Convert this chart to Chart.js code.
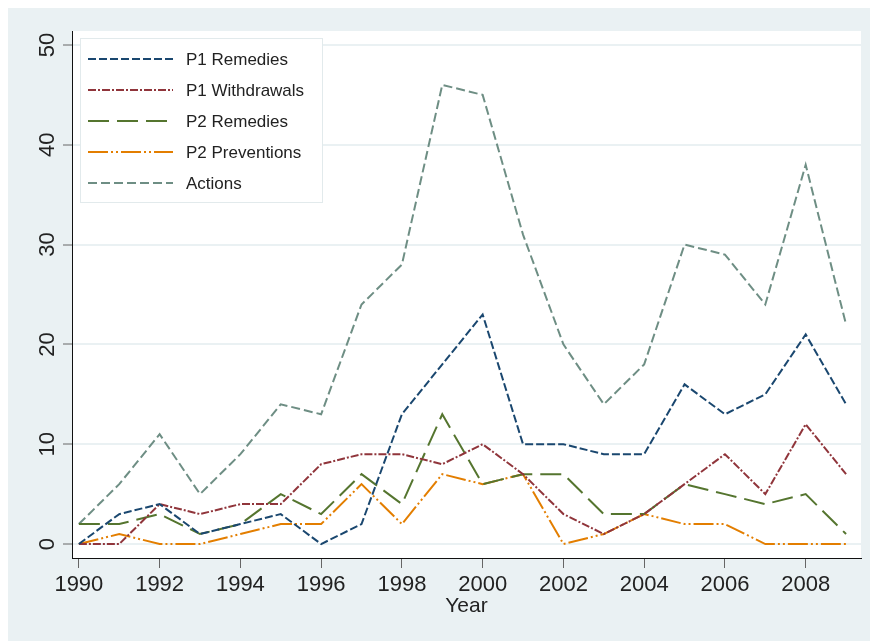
<!DOCTYPE html>
<html lang="en">
<head>
  <meta charset="UTF-8" />
  <title>Actions by year</title>
  <script src="https://cdn.jsdelivr.net/npm/chart.js"></script>
  <style>
    body { margin: 0; background: #fff; }
    canvas { display: block; }
  </style>
</head>
<body>
<canvas id="actionsChart" width="870" height="641"></canvas>
<script>
  const years = [1990, 1991, 1992, 1993, 1994, 1995, 1996, 1997, 1998, 1999,
                 2000, 2001, 2002, 2003, 2004, 2005, 2006, 2007, 2008, 2009];
  const p1Remedies    = [0, 3, 4, 1, 2, 3, 0, 2, 13, 18, 23, 10, 10, 9, 9, 16, 13, 15, 21, 14];
  const p1Withdrawals = [0, 0, 4, 3, 4, 4, 8, 9, 9, 8, 10, 7, 3, 1, 3, 6, 9, 5, 12, 7];
  const p2Remedies    = [2, 2, 3, 1, 2, 5, 3, 7, 4, 13, 6, 7, 7, 3, 3, 6, 5, 4, 5, 1];
  const p2Preventions = [0, 1, 0, 0, 1, 2, 2, 6, 2, 7, 6, 7, 0, 1, 3, 2, 2, 0, 0, 0];
  const actions       = [2, 6, 11, 5, 9, 14, 13, 24, 28, 46, 45, 31, 20, 14, 18, 30, 29, 24, 38, 22];

  const xTicks = [1990, 1992, 1994, 1996, 1998, 2000, 2002, 2004, 2006, 2008];
  const yTicks = [0, 10, 20, 30, 40, 50];

  const FONT = '"Liberation Sans", Arial, sans-serif';
  const BG = '#eaf1f3';

  const series = [
    { label: 'P1 Remedies',    data: p1Remedies,    color: '#1a476f', dash: [8, 3] },
    { label: 'P1 Withdrawals', data: p1Withdrawals, color: '#90353b', dash: [8, 2, 2, 2] },
    { label: 'P2 Remedies',    data: p2Remedies,    color: '#55752f', dash: [21, 8] },
    { label: 'P2 Preventions', data: p2Preventions, color: '#e37e00', dash: [20, 3, 2, 3, 2, 3] },
    { label: 'Actions',        data: actions,       color: '#6e8e84', dash: [9, 4] }
  ];

  // background, rotated y labels and the boxed legend inside the plot
  const stataLook = {
    id: 'stataLook',
    beforeDraw(chart) {
      const ctx = chart.ctx;
      const a = chart.chartArea;
      ctx.save();
      ctx.fillStyle = '#fff';
      ctx.fillRect(0, 0, chart.width, chart.height);
      ctx.fillStyle = BG;
      ctx.fillRect(8, 8, chart.width - 8, chart.height - 8);
      ctx.fillStyle = '#fff';
      ctx.fillRect(a.left, a.top, a.right - a.left, a.bottom - a.top);
      ctx.restore();
    },
    afterDraw(chart) {
      const ctx = chart.ctx;
      const y = chart.scales.y;
      ctx.save();
      ctx.fillStyle = '#222';
      ctx.font = '22px ' + FONT;
      ctx.textAlign = 'center';
      ctx.textBaseline = 'alphabetic';
      yTicks.forEach(v => {
        ctx.save();
        ctx.translate(54, y.getPixelForValue(v));
        ctx.rotate(-Math.PI / 2);
        ctx.fillText(String(v), 0, 0);
        ctx.restore();
      });

      // legend
      ctx.fillStyle = '#fff';
      ctx.fillRect(80, 38, 243, 165);
      ctx.strokeStyle = '#e2eaec';
      ctx.lineWidth = 1;
      ctx.strokeRect(80.5, 38.5, 242, 164);
      ctx.font = '17px ' + FONT;
      ctx.textAlign = 'left';
      ctx.textBaseline = 'middle';
      series.forEach((s, i) => {
        const ly = 59 + i * 31;
        ctx.beginPath();
        ctx.setLineDash(s.dash);
        ctx.strokeStyle = s.color;
        ctx.lineWidth = 2;
        ctx.moveTo(88, ly);
        ctx.lineTo(173, ly);
        ctx.stroke();
        ctx.setLineDash([]);
        ctx.fillStyle = '#222';
        ctx.fillText(s.label, 186, ly + 1);
      });
      ctx.restore();
    }
  };

  const ctx = document.getElementById('actionsChart').getContext('2d');
  new Chart(ctx, {
    type: 'line',
    data: {
      datasets: series.map(s => ({
        label: s.label,
        data: s.data.map((v, i) => ({ x: years[i], y: v })),
        borderColor: s.color,
        borderDash: s.dash,
        borderWidth: 2,
        pointRadius: 0,
        fill: false,
        tension: 0
      }))
    },
    options: {
      responsive: false,
      animation: false,
      layout: { padding: { top: 31, right: 9, left: 0, bottom: 0 } },
      plugins: {
        legend: { display: false },
        tooltip: { enabled: false }
      },
      scales: {
        x: {
          type: 'linear',
          min: 1989.83,
          max: 2009.37,
          afterBuildTicks: scale => { scale.ticks = xTicks.map(v => ({ value: v })); },
          afterFit: scale => { scale.height = 83; },
          border: { color: '#111', width: 1 },
          grid: { drawOnChartArea: false, tickLength: 10, tickColor: '#666', tickWidth: 1 },
          ticks: {
            autoSkip: false,
            maxRotation: 0,
            padding: 4,
            color: '#222',
            font: { family: FONT, size: 22 },
            callback: v => String(v)
          },
          title: {
            display: true,
            text: 'Year',
            color: '#222',
            font: { family: FONT, size: 21 },
            padding: { top: 0, bottom: 22 }
          }
        },
        y: {
          min: -1.4,
          max: 51.4,
          afterBuildTicks: scale => { scale.ticks = yTicks.map(v => ({ value: v })); },
          afterFit: scale => { scale.width = 72; },
          border: { color: '#111', width: 1 },
          grid: { color: BG, lineWidth: 2, tickLength: 9, tickColor: '#666', tickWidth: 1 },
          ticks: { display: false }
        }
      }
    },
    plugins: [stataLook]
  });
</script>
</body>
</html>
